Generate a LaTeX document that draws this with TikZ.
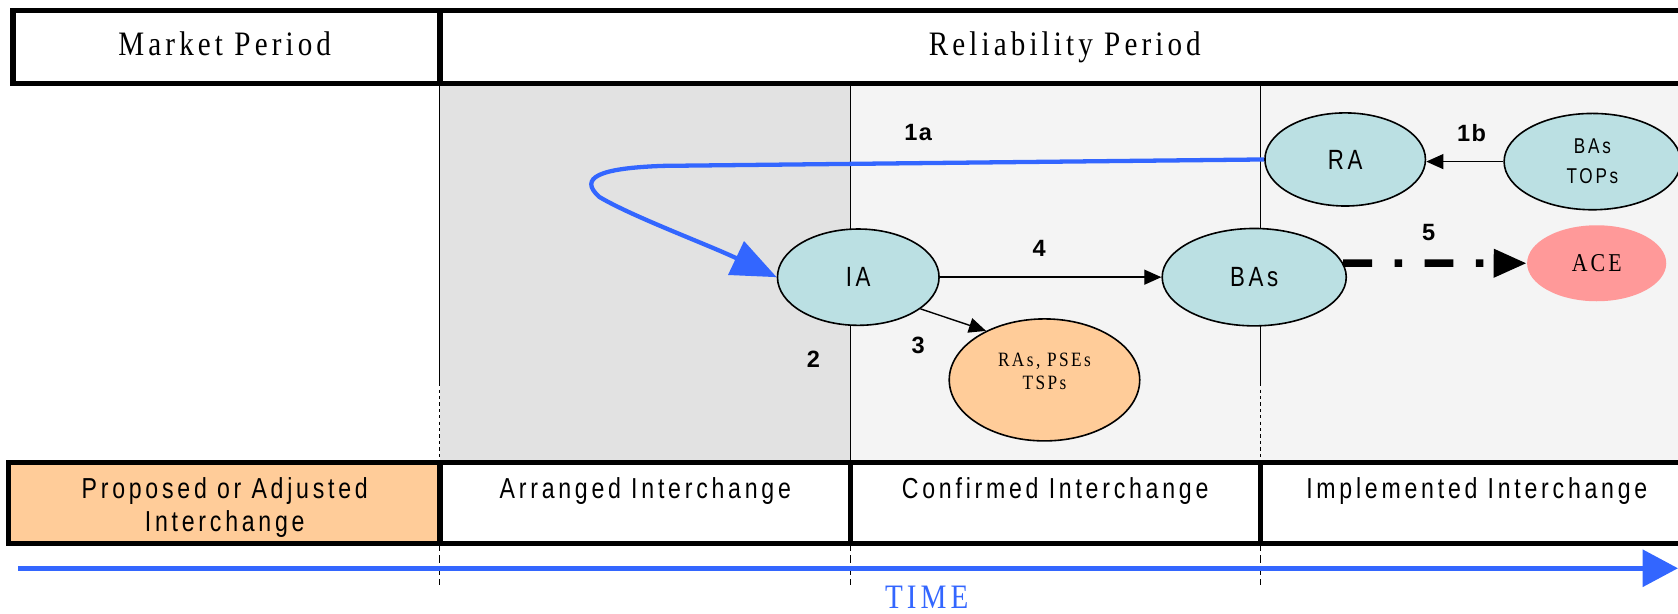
\documentclass[tikz,border=0pt]{standalone}
\usepackage{fontspec}
\setmainfont{Liberation Serif}
\newfontfamily\serifsp{Liberation Serif}[LetterSpace=12,FakeStretch=0.85]
\newfontfamily\sanssp{Liberation Sans}[LetterSpace=13,FakeStretch=0.8]
\newfontfamily\numfont{Liberation Sans}[LetterSpace=6]
\usetikzlibrary{arrows.meta,shapes.geometric}

\definecolor{ovalblue}{HTML}{BBE0E3}
\definecolor{cellorange}{HTML}{FFCC99}
\definecolor{acepink}{HTML}{FF9999}
\definecolor{timeblue}{HTML}{3366FF}
\definecolor{shadedark}{HTML}{E2E2E2}
\definecolor{shadelight}{HTML}{F4F4F4}

\tikzset{
  oval/.style={ellipse, draw=black, line width=1.5pt, fill=ovalblue, inner sep=0pt},
  ovaltext/.style={font=\sanssp\fontsize{26}{28}\selectfont},
  steplabel/.style={font=\numfont\bfseries\fontsize{22}{24}\selectfont},
  periodlabel/.style={anchor=base, font=\serifsp\fontsize{32}{34}\selectfont},
  cell/.style={anchor=north, align=center, inner sep=0pt, font=\sanssp\fontsize{27}{31}\selectfont},
  flow/.style={line width=1.3pt, -{Triangle[length=16pt,width=14pt]}},
  bar/.style={line width=5pt},
}

\begin{document}
\begin{tikzpicture}[x=1pt, y=-1pt]
\useasboundingbox (0,0) rectangle (1568,573);

% shaded areas
\fill[shadedark] (411,78) rectangle (795,432);
\fill[shadelight] (795,78) rectangle (1590,432);

% period lines
\draw[line width=1.2pt] (411,78) -- (411,358);
\draw[line width=1.2pt] (795,78) -- (795,432);
\draw[line width=1.2pt] (1178,78) -- (1178,358);
\foreach \x in {411,1178}
  \draw[line width=1.2pt, dashed] (\x,358) -- (\x,432);
\foreach \x in {411,795,1178}
  \draw[line width=1.2pt, dash pattern=on 7pt off 4pt] (\x,508) -- (\x,547);

% top bar
\draw[bar, fill=white] (12,10) rectangle (1590,78);
\draw[bar] (411,10) -- (411,78);
\node[periodlabel] (market) at (210,52) {Market Period};
\node[periodlabel] (reliab) at (995,52) {Reliability Period};

% bottom bar
\draw[bar, fill=white] (8,432) rectangle (1590,508);
\draw[bar, fill=cellorange] (8,432) rectangle (411,508);
\draw[bar] (795,432) -- (795,508);
\draw[bar] (1178,432) -- (1178,508);
\node[cell] (proposed) at (210,446) {Proposed or Adjusted\\Interchange};
\node[cell] (arranged) at (603,446) {Arranged Interchange};
\node[cell] (confirmed) at (986,446) {Confirmed Interchange};
\node[cell] (implemented) at (1380,446) {Implemented Interchange};

% time axis
\coordinate (tstart) at (17,531);
\coordinate (tend) at (1568,531);
\draw[timeblue, line width=4.5pt, -{Triangle[length=33pt,width=34pt]}] (tstart) -- (tend);
\node[text=timeblue, inner sep=0pt, font=\serifsp\fontsize{32}{34}\selectfont] (time) at (866,558) {TIME};

% entities
\node[oval, minimum width=151pt, minimum height=90pt, ovaltext] (ia) at (802,259) {IA};
\node[oval, minimum width=172pt, minimum height=91pt, ovaltext] (bas) at (1172,259) {BAs};
\node[oval, minimum width=150pt, minimum height=87pt, ovaltext] (ra) at (1257,149) {RA};
\node[oval, minimum width=165pt, minimum height=90pt, align=center,
      font=\sanssp\fontsize{20}{28}\selectfont] (tops) at (1488,151) {BAs\\TOPs};
\node[ellipse, fill=acepink, minimum width=130pt, minimum height=71pt,
      font=\serifsp\fontsize{24}{26}\selectfont] (ace) at (1492,246) {ACE};
\node[oval, fill=cellorange, minimum width=178pt, minimum height=114pt] (ras) at (976,355) {};
\node[align=center, font=\serifsp\fontsize{19}{21}\selectfont] (rastext) at (976,347) {RAs, PSEs\\TSPs};

% steps
\draw[timeblue, line width=4pt, -{Triangle[length=42pt,width=34pt]}]
  (ra.west) -- (620,155) .. controls (560,157) and (540,166) .. (560,184)
  .. controls (590,202) and (660,228) .. (ia.west);
\draw[flow] (tops.west) -- (ra.east |- tops.west);
\draw[flow] (ia.east) -- (bas.west);
\draw[flow] (ia.-27) -- (ras.140);
\draw[line width=7pt, dash pattern=on 27pt off 21pt on 7pt off 21pt,
      -{Triangle[length=31pt,width=25pt]}] (bas.9) -- (ace.west);

\node[steplabel] (s1a) at (858,124) {1a};
\node[steplabel] (s1b) at (1375,124) {1b};
\node[steplabel] (s2) at (760,336) {2};
\node[steplabel] (s3) at (858,323) {3};
\node[steplabel] (s4) at (971,232) {4};
\node[steplabel] (s5) at (1335,217) {5};
\end{tikzpicture}
\end{document}
